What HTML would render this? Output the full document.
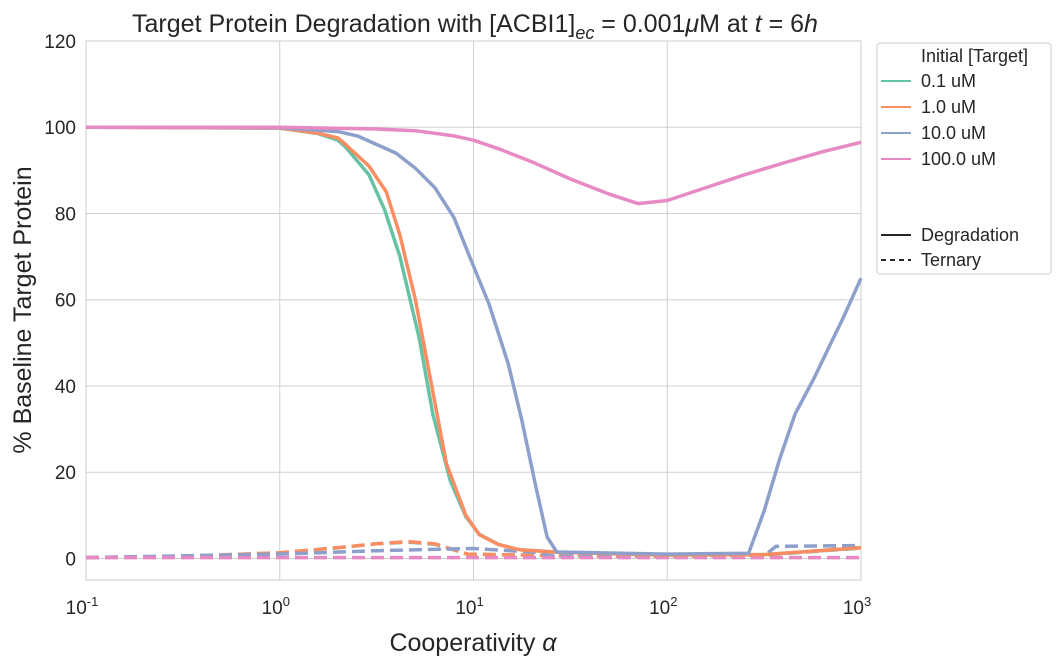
<!DOCTYPE html>
<html><head><meta charset="utf-8"><style>
body{margin:0;background:#fff;font-family:"Liberation Sans","DejaVu Sans",sans-serif}
</style></head><body>
<svg id="c" width="1061" height="667" xmlns="http://www.w3.org/2000/svg" font-family="Liberation Sans, DejaVu Sans, sans-serif"></svg>
<script>
const xTicks=[-1,0,1,2,3];
const yTicks=[0,20,40,60,80,100,120];
const seriesNames=["0.1 uM","1.0 uM","10.0 uM","100.0 uM"];
const colors=["#66c2a5","#fc8d62","#8da0cb","#e78ac3"];
const degX0=[-1,0,0.2,0.3,0.34,0.46,0.54,0.62,0.72,0.79,0.88,0.96,1.03,1.13,1.24,1.45,2,2.5,3];
const degY0=[100,99.8,98.5,97,95.4,89,81,70,51,33.5,18,9.7,5.6,3.2,2,1.4,0.8,0.9,2.5];
const degX1=[-1,0,0.2,0.3,0.34,0.46,0.55,0.62,0.7,0.78,0.86,0.96,1.03,1.13,1.24,1.45,2,2.5,3];
const degY1=[100,99.8,98.6,97.5,96,91,85,75,60,41,22,10,5.5,3.2,2,1.4,0.8,0.9,2.5];
const degX2=[-1,0,0.3,0.4,0.5,0.6,0.7,0.8,0.9,0.98,1.08,1.18,1.25,1.32,1.38,1.43,2,2.42,2.5,2.58,2.66,2.76,2.84,2.91,3];
const degY2=[100,99.9,99,98,96,94,90.5,86,79,70,59,45,32,17,5,1.5,1,1.2,11,23,33.5,42,49.5,56,65];
const degX3=[-1,0,0.5,0.7,0.9,1,1.13,1.3,1.5,1.7,1.85,2,2.2,2.4,2.6,2.8,3];
const degY3=[100,100,99.6,99.2,98,97,95,92,88,84.5,82.3,83,86,89,91.7,94.3,96.5];
const terX0=[-1,-0.5,0,0.3,0.5,0.66,0.8,0.97,1.5,2,2.5,3];
const terY0=[0.2,0.5,1.3,2.5,3.4,3.8,3.3,1,0.6,0.5,0.8,2.4];
const terX1=[-1,-0.5,0,0.3,0.5,0.66,0.8,0.97,1.5,2,2.5,3];
const terY1=[0.2,0.5,1.3,2.5,3.4,3.9,3.4,1,0.6,0.5,0.8,2.6];
const terX2=[-1,0,0.5,1,1.3,1.42,2,2.5,2.56,3];
const terY2=[0.2,1,1.8,2.3,1.5,0.5,0.5,0.6,2.8,3];
const terX3=[-1,0,1,2,3];
const terY3=[0.2,0.2,0.2,0.2,0.2];
const degX=[degX0,degX1,degX2,degX3],degY=[degY0,degY1,degY2,degY3];
const terX=[terX0,terX1,terX2,terX3],terY=[terY0,terY1,terY2,terY3];

const L=86,R=861,T=41,B=580;
const X=v=>L+(v+1)/4*(R-L);
const Y=v=>T+(120-v)/125*(B-T);
const s=document.getElementById('c');
function el(t,a,txt){const e=document.createElementNS('http://www.w3.org/2000/svg',t);for(const k in a)e.setAttribute(k,a[k]);if(txt!==undefined)e.textContent=txt;s.appendChild(e);return e;}
for(const t of xTicks){
 const g=el('line',{x1:X(t),x2:X(t),y1:T,y2:B,stroke:'#d0d0d0','stroke-width':1});
 
 
 const tx=el('text',{x:X(t)-4,y:614,'font-size':19,'text-anchor':'middle',fill:'#262626'});
 
 
 tx.innerHTML='10<tspan dy="-8" font-size="13">'+t+'</tspan>';
}
for(const t of yTicks){
 const g=el('line',{x1:L,x2:R,y1:Y(t),y2:Y(t),stroke:'#d0d0d0','stroke-width':1});
 
 
 const tx=el('text',{x:76,y:Y(t)+7,'font-size':19,'text-anchor':'end',fill:'#262626'},t);
 
 
}
const fr=el('rect',{x:L,y:T,width:R-L,height:B-T,fill:'none',stroke:'#cccccc'});


function path(xs,ys){return xs.map((v,i)=>(i?'L':'M')+X(v).toFixed(1)+','+Y(ys[i]).toFixed(1)).join(' ');}
for(let i=0;i<4;i++){
 const p=el('path',{d:path(terX[i],terY[i]),fill:'none',stroke:colors[i],'stroke-width':3.5,'stroke-dasharray':'13,6'});
 
 
}
for(let i=0;i<4;i++){
 const p=el('path',{d:path(degX[i],degY[i]),fill:'none',stroke:colors[i],'stroke-width':3.5,'stroke-linejoin':'round'});
 
 
}
const ti=el('text',{x:475,y:32,'font-size':25,'text-anchor':'middle',fill:'#262626'});


ti.innerHTML='Target Protein Degradation with [ACBI1]<tspan dy="7" font-size="18" font-style="italic">ec</tspan><tspan dy="-7"> = 0.001</tspan><tspan font-style="italic">μ</tspan>M at <tspan font-style="italic">t</tspan> = 6<tspan font-style="italic">h</tspan>';
const xl=el('text',{x:473,y:651,'font-size':25,'text-anchor':'middle',fill:'#262626'});


xl.innerHTML='Cooperativity <tspan font-style="italic">α</tspan>';
const yl=el('text',{x:31,y:310,'font-size':25,'text-anchor':'middle',fill:'#262626',transform:'rotate(-90 31 310)'},'% Baseline Target Protein');


const lg=el('rect',{x:877,y:43,width:174,height:231,rx:3,fill:'#fff',stroke:'#cccccc'});


const lt=el('text',{x:921,y:62,'font-size':18,fill:'#262626'},'Initial [Target]');


for(let i=0;i<4;i++){
 const yy=87+i*26;
 const ln=el('line',{x1:881,x2:911,y1:yy-6,y2:yy-6,stroke:colors[i],'stroke-width':2});
 
 
 const tx=el('text',{x:921,y:yy,'font-size':18,fill:'#262626'},seriesNames[i]);
 
 
}
[['Degradation',null,241],['Ternary','5,4',266]].forEach(([n,d,yy])=>{
 const a={x1:881,x2:911,y1:yy-6,y2:yy-6,stroke:'#262626','stroke-width':2};if(d)a['stroke-dasharray']=d;
 const ln=el('line',a);
 
 
 const tx=el('text',{x:921,y:yy,'font-size':18,fill:'#262626'},n);
 
 
});
</script>
</body></html>
